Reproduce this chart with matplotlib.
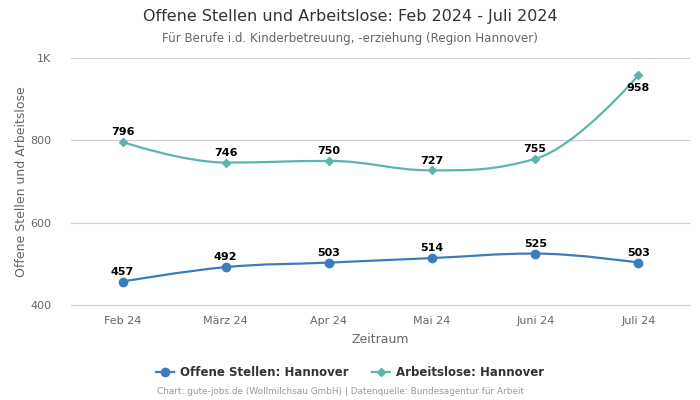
import matplotlib
matplotlib.use("Agg")
import matplotlib.pyplot as plt
from matplotlib.path import Path
from matplotlib.patches import PathPatch
from matplotlib.lines import Line2D
from matplotlib.ticker import FuncFormatter

# data
months = ["Feb 24", "März 24", "Apr 24", "Mai 24", "Juni 24", "Juli 24"]
offene_stellen = [457, 492, 503, 514, 525, 503]
arbeitslose = [796, 746, 750, 727, 755, 958]

c_offen = "#3a7dbb"
c_arbeit = "#5bb5ad"


def spline_path(xs, ys, smoothing=1.5):
    # cubic bezier path, highcharts style control points
    n = len(xs)
    left = [None] * n
    right = [None] * n
    denom = smoothing + 1
    for i in range(1, n - 1):
        lx, ly = xs[i - 1], ys[i - 1]
        nx, ny = xs[i + 1], ys[i + 1]
        px, py = xs[i], ys[i]
        lcx = (smoothing * px + lx) / denom
        lcy = (smoothing * py + ly) / denom
        rcx = (smoothing * px + nx) / denom
        rcy = (smoothing * py + ny) / denom
        if rcx != lcx:
            corr = (rcy - lcy) * (rcx - px) / (rcx - lcx) + py - rcy
            lcy += corr
            rcy += corr
        if lcy > ly and lcy > py:
            lcy = max(ly, py)
            rcy = 2 * py - lcy
        elif lcy < ly and lcy < py:
            lcy = min(ly, py)
            rcy = 2 * py - lcy
        if rcy > ny and rcy > py:
            rcy = max(ny, py)
            lcy = 2 * py - rcy
        elif rcy < ny and rcy < py:
            rcy = min(ny, py)
            lcy = 2 * py - rcy
        left[i] = (lcx, lcy)
        right[i] = (rcx, rcy)
    verts = [(xs[0], ys[0])]
    codes = [Path.MOVETO]
    for i in range(1, n):
        c1 = right[i - 1] or (xs[i - 1], ys[i - 1])
        c2 = left[i] or (xs[i], ys[i])
        verts += [c1, c2, (xs[i], ys[i])]
        codes += [Path.CURVE4] * 3
    return Path(verts, codes)


fig = plt.figure(figsize=(7, 4), dpi=100)
ax = fig.add_axes([0.1014, 0.2375, 0.8843, 0.6175])

x = list(range(len(months)))
for vals, col, mk, ms in [(offene_stellen, c_offen, "o", 6), (arbeitslose, c_arbeit, "D", 4)]:
    ax.add_patch(PathPatch(spline_path(x, vals), facecolor="none", edgecolor=col, lw=1.6, zorder=3))
    ax.plot(x, vals, linestyle="none", marker=mk, ms=ms, color=col, zorder=4)

for series in (offene_stellen, arbeitslose):
    for i, v in enumerate(series):
        if v > 900:
            ax.annotate(str(v), (i, v), xytext=(0, -5.5), textcoords="offset points", ha="center",
                        va="top", fontsize=8, fontweight="bold", color="black", zorder=5)
        else:
            ax.annotate(str(v), (i, v), xytext=(0, 3.5), textcoords="offset points", ha="center",
                        va="bottom", fontsize=8, fontweight="bold", color="black", zorder=5)

ax.set_xlim(-0.5, len(months) - 0.5)
ax.set_ylim(400, 1000)
ax.set_yticks([400, 600, 800, 1000])
ax.yaxis.set_major_formatter(FuncFormatter(lambda v, p: "1K" if v == 1000 else f"{int(v)}"))
ax.set_xticks(x)
ax.set_xticklabels(months)
ax.tick_params(length=0, labelsize=8, labelcolor="#666666", pad=8)
ax.tick_params(axis="y", pad=14)
ax.grid(axis="y", color="#cccccc", lw=0.8)
ax.set_axisbelow(True)
for s in ax.spines.values():
    s.set_visible(False)
ax.spines["bottom"].set_visible(True)
ax.spines["bottom"].set_color("#cccccc")
ax.spines["bottom"].set_linewidth(0.8)

ax.set_xlabel("Zeitraum", fontsize=9, color="#666666", labelpad=5)
ax.set_ylabel("Offene Stellen und Arbeitslose", fontsize=9, color="#666666", labelpad=2)

fig.text(0.5, 0.958, "Offene Stellen und Arbeitslose: Feb 2024 - Juli 2024", ha="center",
         va="center", fontsize=11.5, color="#333333")
fig.text(0.5, 0.903, "Für Berufe i.d. Kinderbetreuung, -erziehung (Region Hannover)", ha="center",
         va="center", fontsize=8.6, color="#666666")

handles = [Line2D([0], [0], color=c_offen, marker="o", ms=6, lw=1.6),
           Line2D([0], [0], color=c_arbeit, marker="D", ms=4, lw=1.6)]
fig.legend(handles, ["Offene Stellen: Hannover", "Arbeitslose: Hannover"], loc="center",
           bbox_to_anchor=(0.5, 0.068), ncol=2, frameon=False, handlelength=1.5,
           columnspacing=2.0, handletextpad=0.5,
           prop={"size": 8.5, "weight": "bold"}, labelcolor="#333333")

fig.text(0.486, 0.02, "Chart: gute-jobs.de (Wollmilchsau GmbH) | Datenquelle: Bundesagentur für Arbeit",
         ha="center", va="center", fontsize=6.4, color="#999999")

fig.savefig("out.png", dpi=100)
